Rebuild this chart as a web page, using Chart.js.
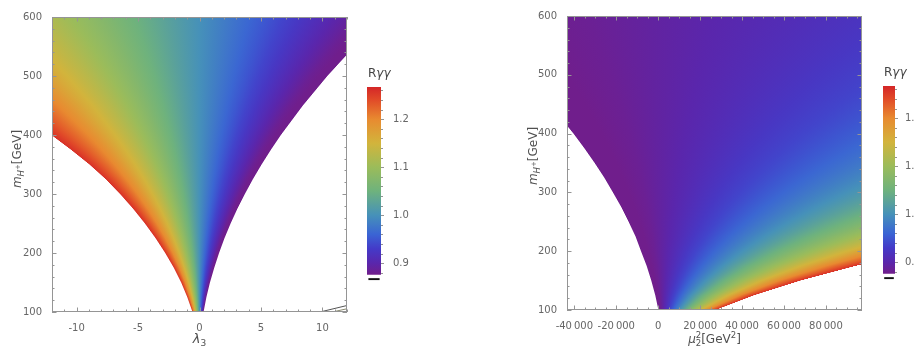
<!DOCTYPE html>
<html>
<head>
<meta charset="utf-8">
<title>R&gamma;&gamma;</title>
<script src="https://cdn.jsdelivr.net/npm/chart.js@4.4.1/dist/chart.umd.min.js"></script>
<style>
  html, body { margin: 0; padding: 0; background: #fff; }
  body { width: 915px; height: 347px; overflow: hidden; position: relative; }
  canvas { position: absolute; }
</style>
</head>
<body>
<canvas id="lamChart" width="352" height="347" style="left:0;top:0"></canvas>
<canvas id="muChart" width="362" height="347" style="left:505px;top:0"></canvas>
<canvas id="lamBar" width="110" height="250" style="left:340px;top:50px"></canvas>
<canvas id="muBar" width="110" height="250" style="left:856px;top:50px"></canvas>
<script>
// Rγγ contour levels, first and last one are the edges of the allowed region
const levels = [0.865, 0.9, 0.95, 1.0, 1.05, 1.1, 1.15, 1.2, 1.26];
const massRows = [100, 125, 150, 175, 200, 225, 250, 275, 300, 325, 350, 375, 400, 450, 500, 550, 600];

// left panel: λ3 of each contour (one array per level, one entry per mass row)
const lamContours = [
  [0.33, 0.56, 0.85, 1.20, 1.59, 2.03, 2.53, 3.08, 3.69, 4.34, 5.05, 5.81, 6.62, 8.41, 10.40, 12.60, 15.01],
  [0.24, 0.41, 0.63, 0.88, 1.17, 1.49, 1.86, 2.26, 2.71, 3.19, 3.71, 4.27, 4.86, 6.17, 7.64, 9.25, 11.02],
  [0.12, 0.20, 0.31, 0.43, 0.58, 0.74, 0.92, 1.12, 1.34, 1.57, 1.83, 2.10, 2.40, 3.05, 3.77, 4.57, 5.44],
  [0, 0, 0, 0, 0, 0, 0, 0, 0, 0, 0, 0, 0, 0, 0, 0, 0],
  [-0.12, -0.20, -0.30, -0.42, -0.56, -0.72, -0.90, -1.09, -1.30, -1.53, -1.79, -2.05, -2.34, -2.97, -3.68, -4.45, -5.30],
  [-0.23, -0.39, -0.60, -0.83, -1.11, -1.42, -1.77, -2.15, -2.57, -3.03, -3.53, -4.06, -4.63, -5.87, -7.26, -8.80, -10.48],
  [-0.34, -0.58, -0.88, -1.24, -1.65, -2.11, -2.62, -3.19, -3.82, -4.50, -5.23, -6.02, -6.86, -8.70, -10.77, -13.05, -15.54],
  [-0.45, -0.77, -1.16, -1.63, -2.18, -2.78, -3.46, -4.21, -5.03, -5.93, -6.90, -7.93, -9.05, -11.48, -14.20, -17.21, -20.50],
  [-0.57, -0.99, -1.49, -2.09, -2.79, -3.57, -4.44, -5.40, -6.46, -7.62, -8.95, -10.45, -12.05, -15.20, -18.40, -22.10, -26.30]
];

// right panel: μ2² (GeV²) of each contour, same rows
const muContours = [
  [100, -1400, -3300, -5500, -8200, -10800, -14100, -17600, -21600, -25700, -30300, -35200, -40400, -51800, -64700, -78800, -94200],
  [2800, 3100, 3600, 4100, 4600, 5500, 6200, 7200, 8100, 9100, 10300, 11400, 12900, 15800, 19000, 22600, 26600],
  [6400, 9500, 13200, 17500, 22500, 28200, 34700, 41700, 49600, 58100, 67200, 77100, 87400, 110400, 136000, 164400, 195500],
  [10000, 15600, 22500, 30600, 40000, 50600, 62500, 75600, 90000, 105600, 122500, 140600, 160000, 202500, 250000, 302500, 360000],
  [13500, 21600, 31600, 43400, 57000, 72400, 89600, 108600, 129400, 151900, 176500, 202700, 230800, 292400, 361200, 437200, 520500],
  [16900, 27500, 40500, 55900, 73700, 93600, 116000, 140700, 167900, 197300, 229200, 263500, 299900, 380100, 469700, 568700, 677100],
  [20200, 33300, 49200, 68100, 89900, 114500, 141900, 172100, 205500, 241800, 280700, 322800, 367500, 465900, 575800, 697300, 830300],
  [23500, 39000, 57700, 80000, 105800, 134700, 167200, 203000, 242300, 285100, 331200, 380600, 433700, 549800, 679700, 823200, 980200],
  [27300, 45600, 67700, 94000, 124500, 158600, 196800, 239000, 285500, 335900, 390300, 448700, 511200, 648200, 801400, 970700, 1155900]
];

// the little hatched edge in the bottom right corner of the λ3 panel
const lamEdgeA = [[9.8, 100], [12, 111]];
const lamEdgeB = [[10.8, 100], [12, 105.5]];

const lamTicks = [-10, -5, 0, 5, 10];
const massTicks = [100, 200, 300, 400, 500, 600];
const muTicks = [-40000, -20000, 0, 20000, 40000, 60000, 80000];
const barTicks = [0.9, 1.0, 1.1, 1.2];

// colour bar (Rγγ -> colour)
const paletteR = [0.877, 0.90, 0.93, 0.96, 1.00, 1.05, 1.10, 1.15, 1.20, 1.24, 1.267];
const paletteRGB = [
  [112, 30, 140], [90, 38, 172], [68, 58, 200], [58, 100, 212], [70, 145, 185],
  [110, 178, 125], [155, 188, 90], [210, 180, 60], [232, 138, 48], [225, 75, 40], [212, 38, 40]
];
const barRange = [0.877, 1.267];
const underBar = [0.865, 0.869];

const FONT = '"DejaVu Sans", sans-serif';
const labelGrey = '#666';
const frameGrey = '#959595';

function rgb(c) { return 'rgb(' + c.map(Math.round).join(',') + ')'; }

function rColor(r) {
  if (r <= paletteR[0]) return rgb(paletteRGB[0]);
  for (let i = 1; i < paletteR.length; i++) {
    if (r <= paletteR[i]) {
      const f = (r - paletteR[i - 1]) / (paletteR[i] - paletteR[i - 1]);
      const a = paletteRGB[i - 1], b = paletteRGB[i];
      return rgb(a.map((c, k) => c + (b[k] - c) * f));
    }
  }
  return rgb(paletteRGB[paletteRGB.length - 1]);
}

function withSpace(v) {
  const s = String(Math.abs(v));
  const body = s.length > 4 ? s.slice(0, -3) + '\u2009' + s.slice(-3) : s;
  return (v < 0 ? '-' : '') + body;
}

function contourSets(table) {
  return levels.map((lv, i) => ({
    level: lv,
    data: table[i].map((x, j) => ({ x, y: massRows[j] })),
    showLine: false,
    pointRadius: 0
  }));
}

// x pixel where a contour polyline crosses pixel row py
function xAtRow(pts, py) {
  for (let i = 0; i < pts.length - 1; i++) {
    const p = pts[i], q = pts[i + 1];
    if (py <= p.y + 0.01 && py >= q.y - 0.01) {
      const f = (p.y - py) / (p.y - q.y || 1);
      return p.x + (q.x - p.x) * f;
    }
  }
  return null;
}

// paints the density between the contour lines, row by row
const fieldPlugin = {
  id: 'field',
  beforeDatasetsDraw(chart) {
    const { ctx, chartArea: a } = chart;
    const lines = [];
    chart.data.datasets.forEach((ds, i) => {
      if (ds.level !== undefined) lines.push({ level: ds.level, pts: chart.getDatasetMeta(i).data });
    });
    ctx.save();
    ctx.beginPath();
    ctx.rect(a.left, a.top, a.width, a.height);
    ctx.clip();
    for (let py = Math.floor(a.top); py < a.bottom; py++) {
      const cuts = [];
      lines.forEach(l => {
        const x = xAtRow(l.pts, py + 0.5);
        if (x !== null) cuts.push({ x, level: l.level });
      });
      if (cuts.length < 2) continue;
      cuts.sort((p, q) => p.x - q.x);
      const x0 = cuts[0].x, x1 = cuts[cuts.length - 1].x;
      if (x1 - x0 < 0.5) continue;
      const g = ctx.createLinearGradient(x0, 0, x1, 0);
      for (let k = 0; k < cuts.length; k++) {
        const c = cuts[k];
        g.addColorStop((c.x - x0) / (x1 - x0), rColor(c.level));
        if (k < cuts.length - 1) {
          const n = cuts[k + 1];
          for (let j = 1; j < 4; j++) {
            const f = j / 4;
            g.addColorStop((c.x + (n.x - c.x) * f - x0) / (x1 - x0), rColor(c.level + (n.level - c.level) * f));
          }
        }
      }
      ctx.fillStyle = g;
      ctx.fillRect(x0, py, x1 - x0, 1);
    }
    ctx.restore();
  }
};

function tickList(majors, lo, hi, step) {
  const out = majors.map(v => ({ v, major: true }));
  const n0 = Math.ceil(lo / step - 1e-9), n1 = Math.floor(hi / step + 1e-9);
  for (let n = n0; n <= n1; n++) {
    const v = n * step;
    if (!majors.some(m => Math.abs(m - v) < step * 1e-3)) out.push({ v, major: false });
  }
  return out;
}

function richText(ctx, parts, x, y, rot) {
  let w = 0;
  parts.forEach(p => { ctx.font = p.f; p.w = ctx.measureText(p.t).width; if (!p.stack) w += p.w; });
  ctx.save();
  ctx.translate(x, y);
  if (rot) ctx.rotate(rot);
  ctx.textAlign = 'left';
  ctx.textBaseline = 'alphabetic';
  let cx = -w / 2;
  parts.forEach(p => {
    ctx.font = p.f;
    ctx.fillText(p.t, cx, p.dy || 0);
    if (!p.stack) cx += p.w;
  });
  ctx.restore();
}

// Mathematica-like frame: box, inward ticks on all four sides, axis titles
function frameAndTitles(cfg) {
  return {
    id: 'frameAndTitles',
    afterDatasetsDraw(chart) {
      const { ctx, chartArea: a, scales: { x, y } } = chart;
      ctx.save();
      ctx.strokeStyle = frameGrey;
      ctx.lineWidth = 1;
      ctx.beginPath();
      tickList(cfg.xMajor, x.min, x.max, cfg.xStep).forEach(t => {
        const px = Math.round(x.getPixelForValue(t.v)) + 0.5;
        const len = t.major ? 4.5 : 2.5;
        ctx.moveTo(px, a.bottom); ctx.lineTo(px, a.bottom - len);
        ctx.moveTo(px, a.top); ctx.lineTo(px, a.top + len);
      });
      tickList(cfg.yMajor, y.min, y.max, cfg.yStep).forEach(t => {
        const py = Math.round(y.getPixelForValue(t.v)) + 0.5;
        const len = t.major ? 4.5 : 2.5;
        ctx.moveTo(a.left, py); ctx.lineTo(a.left + len, py);
        ctx.moveTo(a.right, py); ctx.lineTo(a.right - len, py);
      });
      ctx.stroke();
      ctx.strokeRect(Math.round(a.left) + 0.5, Math.round(a.top) + 0.5, Math.round(a.width) - 1, Math.round(a.height) - 1);

      ctx.fillStyle = '#505050';
      richText(ctx, cfg.xTitle, (a.left + a.right) / 2, cfg.xTitleY, 0);
      richText(ctx, cfg.yTitle, cfg.yTitleX, cfg.yTitleY, -Math.PI / 2);
      ctx.restore();
    }
  };
}

function mainChart(id, o) {
  return new Chart(document.getElementById(id), {
    type: 'scatter',
    data: { datasets: o.datasets },
    options: {
      responsive: false,
      animation: false,
      events: [],
      layout: { padding: { top: o.top, right: 5, left: 0, bottom: 0 } },
      elements: { point: { radius: 0 } },
      scales: {
        x: {
          type: 'linear', min: o.xMin, max: o.xMax,
          grid: { display: false }, border: { display: false },
          afterBuildTicks: s => { s.ticks = o.xMajor.map(v => ({ value: v })); },
          afterFit: s => { s.height = o.xAxisH; },
          ticks: { autoSkip: false, maxRotation: 0, minRotation: 0, padding: 2, color: labelGrey,
                   font: { size: 10, family: FONT }, callback: o.xFmt }
        },
        y: {
          type: 'linear', min: 100, max: 600,
          grid: { display: false }, border: { display: false },
          afterBuildTicks: s => { s.ticks = massTicks.map(v => ({ value: v })); },
          afterFit: s => { s.width = o.yAxisW; },
          ticks: { autoSkip: false, padding: 2, color: labelGrey,
                   font: { size: 10, family: FONT }, callback: v => String(v) }
        }
      },
      plugins: { legend: { display: false }, tooltip: { enabled: false } }
    },
    plugins: [fieldPlugin, frameAndTitles(o)]
  });
}

const massTitle = [
  { t: 'm', f: 'italic 12px ' + FONT },
  { t: 'H', f: 'italic 8.5px ' + FONT, dy: 3 },
  { t: '+', f: '7px ' + FONT, dy: -1 },
  { t: '[GeV]', f: '12px ' + FONT }
];

mainChart('lamChart', {
  datasets: contourSets(lamContours).concat([
    { data: lamEdgeA.map(p => ({ x: p[0], y: p[1] })), showLine: true, borderColor: '#555', borderWidth: 1, pointRadius: 0 },
    { data: lamEdgeB.map(p => ({ x: p[0], y: p[1] })), showLine: true, borderColor: '#8a8a70', borderWidth: 1, pointRadius: 0 }
  ]),
  xMin: -12, xMax: 12, xMajor: lamTicks, xStep: 1, yMajor: massTicks, yStep: 20,
  top: 17, xAxisH: 35, yAxisW: 52,
  xFmt: v => String(v),
  xTitle: [{ t: 'λ', f: 'italic 13px ' + FONT }, { t: '3', f: '9px ' + FONT, dy: 3 }],
  xTitleY: 343,
  yTitle: massTitle, yTitleX: 20.5, yTitleY: 159
});

mainChart('muChart', {
  datasets: contourSets(muContours),
  xMin: -43500, xMax: 97200, xMajor: muTicks, xStep: 5000, yMajor: massTicks, yStep: 20,
  top: 16, xAxisH: 37, yAxisW: 62,
  xFmt: v => withSpace(v),
  xTitle: [
    { t: 'μ', f: 'italic 12px ' + FONT },
    { t: '2', f: '8.5px ' + FONT, dy: 3, stack: true },
    { t: '2', f: '8.5px ' + FONT, dy: -5 },
    { t: '[GeV', f: '12px ' + FONT },
    { t: '2', f: '8.5px ' + FONT, dy: -5 },
    { t: ']', f: '12px ' + FONT }
  ],
  xTitleY: 343,
  yTitle: massTitle, yTitleX: 32, yTitleY: 156
});

function barGradient(chart) {
  const y = chart.scales.y;
  if (!y || !chart.chartArea) return rgb(paletteRGB[0]);
  const g = chart.ctx.createLinearGradient(0, y.getPixelForValue(barRange[0]), 0, y.getPixelForValue(barRange[1]));
  paletteR.forEach((r, i) => {
    const f = Math.min(1, Math.max(0, (r - barRange[0]) / (barRange[1] - barRange[0])));
    g.addColorStop(f, rgb(paletteRGB[i]));
  });
  return g;
}

const barDecor = {
  id: 'barDecor',
  afterDatasetsDraw(chart) {
    const { ctx, chartArea: a, scales: { y } } = chart;
    ctx.save();
    ctx.strokeStyle = frameGrey;
    ctx.lineWidth = 1;
    ctx.beginPath();
    tickList(barTicks, barRange[0], barRange[1], 0.02).forEach(t => {
      const py = Math.round(y.getPixelForValue(t.v)) + 0.5;
      ctx.moveTo(a.right, py);
      ctx.lineTo(a.right + (t.major ? 3 : 2), py);
    });
    ctx.stroke();
    ctx.fillStyle = '#444';
    ctx.textAlign = 'left';
    ctx.textBaseline = 'alphabetic';
    ctx.font = '12px ' + FONT;
    ctx.fillText('R', a.left + 1, a.top - 10);
    const rw = ctx.measureText('R').width;
    ctx.font = 'italic 12px ' + FONT;
    ctx.fillText('γγ', a.left + 1 + rw, a.top - 10);
    ctx.restore();
  }
};

function colourBar(id, top, axisW, pad) {
  return new Chart(document.getElementById(id), {
    type: 'bar',
    data: {
      labels: ['Rγγ'],
      datasets: [
        { data: [barRange], backgroundColor: c => barGradient(c.chart), grouped: false, barPercentage: 1, categoryPercentage: 1 },
        { data: [underBar], backgroundColor: '#111', grouped: false, barPercentage: 0.8, categoryPercentage: 1 }
      ]
    },
    options: {
      responsive: false,
      animation: false,
      events: [],
      layout: { padding: { left: 27, top: top, bottom: 250 - top - 195, right: 0 } },
      scales: {
        x: { display: false },
        y: {
          position: 'right', min: 0.861, max: 1.267,
          grid: { display: false }, border: { display: false },
          afterBuildTicks: s => { s.ticks = barTicks.map(v => ({ value: v })); },
          afterFit: s => { s.width = axisW; },
          ticks: { padding: pad, color: labelGrey, font: { size: 10, family: FONT }, callback: v => v.toFixed(1) }
        }
      },
      plugins: { legend: { display: false }, tooltip: { enabled: false } }
    },
    plugins: [barDecor]
  });
}

colourBar('lamBar', 37, 69, 4);
colourBar('muBar', 36, 71, 2);
</script>
</body>
</html>
